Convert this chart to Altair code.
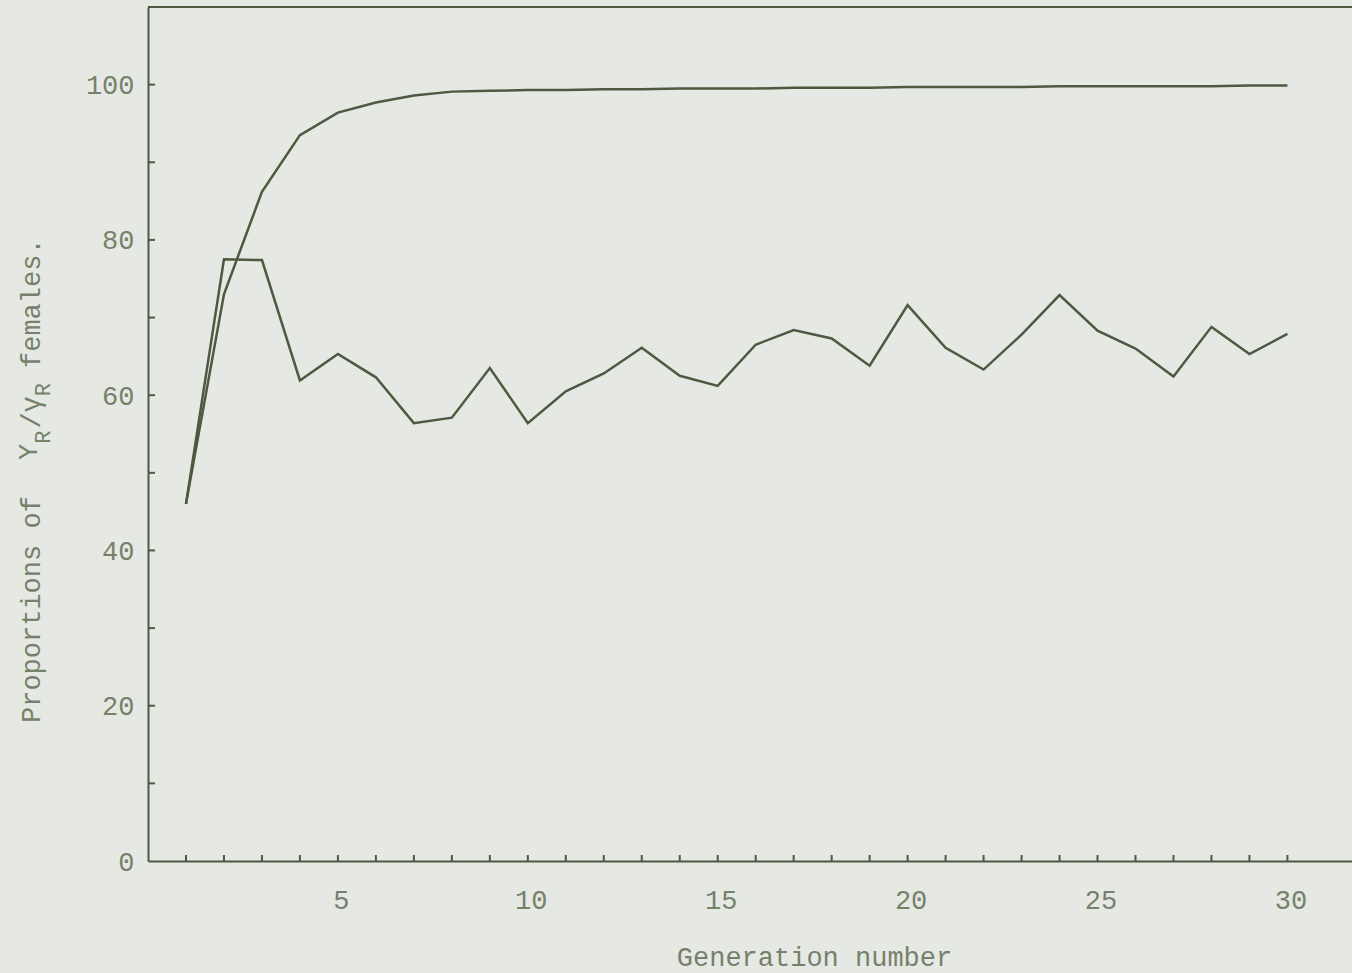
import altair as alt
import pandas as pd

# Generation numbers and the two percentage series
generations = list(range(1, 31))
upper_pct = [46.0, 73.0, 86.2, 93.5, 96.4, 97.7, 98.6, 99.1, 99.2, 99.3,
             99.3, 99.4, 99.4, 99.5, 99.5, 99.5, 99.6, 99.6, 99.6, 99.7,
             99.7, 99.7, 99.7, 99.8, 99.8, 99.8, 99.8, 99.8, 99.9, 99.9]
lower_pct = [46.0, 77.5, 77.4, 61.9, 65.3, 62.3, 56.4, 57.1, 63.5, 56.4,
             60.5, 62.8, 66.1, 62.5, 61.2, 66.5, 68.4, 67.3, 63.8, 71.6,
             66.1, 63.3, 67.8, 72.9, 68.3, 66.0, 62.4, 68.8, 65.3, 67.9]

y_label_values = [0, 20, 40, 60, 80, 100]
y_tick_values = [10, 20, 30, 40, 50, 60, 70, 80, 90, 100]
x_label_values = [5, 10, 15, 20, 25, 30]
x_tick_values = generations
frame_top = [110]

W, H = 1204, 854
X_MAX, Y_MAX = 31.7, 110

INK = "#4d5940"
TEXT = "#76816b"
BG = "#e6e9e3"
FONT = "Liberation Mono"
FS = 27

x_scale = alt.Scale(domain=[0, X_MAX], nice=False, zero=False)
y_scale = alt.Scale(domain=[0, Y_MAX], nice=False)

x_axis = alt.Axis(
    values=x_label_values, ticks=False, grid=False,
    domain=True, domainColor=INK, domainWidth=2,
    labelFont=FONT, labelFontSize=FS, labelColor=TEXT, labelPadding=26,
    labelOffset=3,
    title="Generation number", titleFont=FONT, titleFontSize=FS,
    titleFontWeight="normal", titleColor=TEXT,
    titleX=666, titleY=104, titleAlign="center", titleBaseline="alphabetic",
)
y_axis = alt.Axis(
    values=y_label_values, ticks=False, grid=False,
    domain=True, domainColor=INK, domainWidth=2,
    labelFont=FONT, labelFontSize=FS, labelColor=TEXT, labelPadding=14,
    labelOffset=1, title=None,
)

X = alt.X("gen:Q", scale=x_scale, axis=x_axis)
Y = alt.Y("pct:Q", scale=y_scale, axis=y_axis)

lines_df = pd.DataFrame({
    "gen": generations * 2,
    "pct": upper_pct + lower_pct,
    "series": ["upper"] * len(generations) + ["lower"] * len(generations),
})

lines = alt.Chart(lines_df).mark_line(color=INK, strokeWidth=2.5).encode(
    x=X, y=Y, detail="series:N",
)

# Inward tick marks on both axes
y_ticks = alt.Chart(pd.DataFrame({"pct": y_tick_values})).mark_rule(
    color=INK, strokeWidth=2).encode(
    y=Y, x=alt.value(0), x2=alt.value(7),
)
x_ticks = alt.Chart(pd.DataFrame({"gen": x_tick_values})).mark_rule(
    color=INK, strokeWidth=2).encode(
    x=X, y=alt.value(H), y2=alt.value(H - 6),
)

# Top frame line
top_line = alt.Chart(pd.DataFrame({"pct": frame_top})).mark_rule(
    color=INK, strokeWidth=2).encode(y=Y)

# Y-axis title with subscripted R's, set in pieces (x shift, gap before)
ADV = FS * 0.6
SUB_FS = 22
SUB_ADV = SUB_FS * 0.6
title_x = -108
title_start = 716
pieces = [
    ("Proportions of", FS, 0, 0, 14 * ADV),
    ("Y", FS, -3, ADV + 20, ADV),
    ("R", SUB_FS, 10, 0, SUB_ADV + 2),
    ("/γ", FS, 0, 0, 2 * ADV),
    ("R", SUB_FS, 10, 0, SUB_ADV),
    ("females.", FS, 0, 15, 8 * ADV),
]
title_layers = []
pos = title_start
for txt, size, shift, gap, advance in pieces:
    pos -= gap
    title_layers.append(
        alt.Chart(pd.DataFrame({"t": [txt]})).mark_text(
            angle=270, align="left", baseline="alphabetic",
            font=FONT, fontSize=size, color=TEXT,
        ).encode(x=alt.value(title_x + shift), y=alt.value(pos), text="t:N")
    )
    pos -= advance

chart = alt.layer(lines, top_line, y_ticks, x_ticks, *title_layers).properties(
    width=W, height=H,
    padding={"left": 148, "top": 7, "right": 0, "bottom": 112},
    autosize=alt.AutoSizeParams(type="none"),
).configure_view(stroke=None).configure(background=BG)

chart.save("out.html", embed_options={"renderer": "svg", "actions": False})
